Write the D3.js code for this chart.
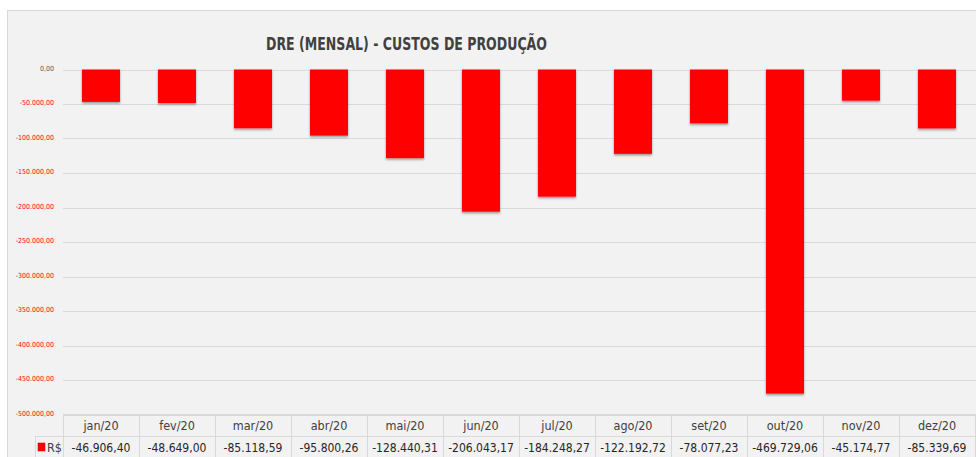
<!DOCTYPE html>
<html>
<head>
<meta charset="utf-8">
<script src="https://cdn.jsdelivr.net/npm/d3@7"></script>
<style>
  html, body { margin: 0; padding: 0; background: #fff; }
  svg { display: block; }
</style>
</head>
<body>
<div id="chart"></div>
<script>
const months = ['jan/20', 'fev/20', 'mar/20', 'abr/20', 'mai/20', 'jun/20',
  'jul/20', 'ago/20', 'set/20', 'out/20', 'nov/20', 'dez/20'];
const values = [-46906.40, -48649.00, -85118.59, -95800.26, -128440.31, -206043.17,
  -184248.27, -122192.72, -78077.23, -469729.06, -45174.77, -85339.69];
const yTicks = [0, -50000, -100000, -150000, -200000, -250000, -300000,
  -350000, -400000, -450000, -500000];
const seriesName = 'R$';
const title = 'DRE (MENSAL) - CUSTOS DE PRODUÇÃO';

const W = 976, H = 457;
const plot = { left: 63, right: 975, top: 69.5, bottom: 414.5 };
const FONT = '"DejaVu Sans Condensed", "Liberation Sans Narrow", "Open Sans", sans-serif';

const br = d3.formatLocale({ decimal: ',', thousands: '.', grouping: [3], currency: ['R$', ''] });
const fmt = br.format(',.2f');
const fmtNum = v => fmt(v).replace('−', '-');

const svg = d3.select('#chart').append('svg')
  .attr('width', W)
  .attr('height', H);

// drop shadow for the bars
const defs = svg.append('defs');
const shadow = defs.append('filter').attr('id', 'shadow')
  .attr('x', '-20%').attr('y', '-20%').attr('width', '140%').attr('height', '140%');
shadow.append('feDropShadow')
  .attr('dx', 0).attr('dy', 1.5).attr('stdDeviation', 1)
  .attr('flood-color', '#000').attr('flood-opacity', 0.4);

// chart area background
svg.append('rect')
  .attr('x', 7.5).attr('y', 10.5)
  .attr('width', W).attr('height', H)
  .attr('fill', '#f2f2f2')
  .attr('stroke', '#d9d9d9')
  .attr('stroke-width', 1);

// title
svg.append('text')
  .attr('x', 266)
  .attr('y', 50)
  .attr('font-family', FONT)
  .attr('font-size', '17px')
  .attr('font-weight', 'bold')
  .attr('fill', '#404040')
  .attr('textLength', 281)
  .attr('lengthAdjust', 'spacingAndGlyphs')
  .text(title);

// scales
const x = d3.scaleBand()
  .domain(months)
  .range([plot.left, plot.right])
  .paddingInner(0.5)
  .paddingOuter(0.25);

const y = d3.scaleLinear()
  .domain([0, -500000])
  .range([plot.top, plot.bottom]);

// gridlines
svg.append('g')
  .selectAll('line')
  .data(yTicks)
  .join('line')
  .attr('x1', plot.left)
  .attr('x2', W)
  .attr('y1', d => Math.round(y(d)) + 0.5)
  .attr('y2', d => Math.round(y(d)) + 0.5)
  .attr('stroke', '#d9d9d9')
  .attr('stroke-width', 1);

// y axis labels
const yAxis = svg.append('g')
  .attr('transform', `translate(${plot.left - 9},0)`)
  .call(d3.axisLeft(y).tickValues(yTicks).tickSize(0).tickFormat(fmtNum));
yAxis.select('.domain').remove();
yAxis.selectAll('text')
  .attr('x', 0)
  .attr('dy', '0.1em')
  .attr('font-family', FONT)
  .attr('font-size', '7px')
  .attr('fill', d => d < 0 ? '#ff0000' : '#595959');

// bars
svg.append('g')
  .selectAll('rect')
  .data(values)
  .join('rect')
  .attr('x', (d, i) => x(months[i]))
  .attr('y', y(0))
  .attr('width', x.bandwidth())
  .attr('height', d => y(d) - y(0))
  .attr('fill', '#ff0000')
  .attr('filter', 'url(#shadow)');

// data table
const step = x.step();
const colX = i => plot.left + i * step;
const rowTop = plot.bottom;
const rowMid = 436.5;
const table = svg.append('g');

// horizontal lines
table.append('line')
  .attr('x1', plot.left).attr('x2', W)
  .attr('y1', rowTop).attr('y2', rowTop)
  .attr('stroke', '#d9d9d9');
table.append('line')
  .attr('x1', 35).attr('x2', W)
  .attr('y1', rowMid).attr('y2', rowMid)
  .attr('stroke', '#d9d9d9');

// vertical lines
table.selectAll('.vline')
  .data(d3.range(months.length + 1))
  .join('line')
  .attr('class', 'vline')
  .attr('x1', i => Math.round(colX(i)) + 0.5)
  .attr('x2', i => Math.round(colX(i)) + 0.5)
  .attr('y1', rowTop)
  .attr('y2', H)
  .attr('stroke', '#d9d9d9');
table.append('line')
  .attr('x1', 35.5).attr('x2', 35.5)
  .attr('y1', rowMid).attr('y2', H)
  .attr('stroke', '#d9d9d9');

// header row
table.selectAll('.hdr')
  .data(months)
  .join('text')
  .attr('class', 'hdr')
  .attr('x', d => x(d) + x.bandwidth() / 2)
  .attr('y', 430)
  .attr('text-anchor', 'middle')
  .attr('font-family', FONT)
  .attr('font-size', '12.5px')
  .attr('fill', '#404040')
  .text(d => d);

// values row
table.selectAll('.val')
  .data(values)
  .join('text')
  .attr('class', 'val')
  .attr('x', (d, i) => x(months[i]) + x.bandwidth() / 2)
  .attr('y', 452)
  .attr('text-anchor', 'middle')
  .attr('font-family', FONT)
  .attr('font-size', '12px')
  .attr('fill', '#262626')
  .text(d => fmtNum(d));

// legend key in table
table.append('rect')
  .attr('x', 38).attr('y', 443)
  .attr('width', 7).attr('height', 8)
  .attr('fill', '#ff0000')
  .attr('stroke', '#c00000')
  .attr('stroke-width', 0.5);
table.append('text')
  .attr('x', 47)
  .attr('y', 452)
  .attr('font-family', FONT)
  .attr('font-size', '12.5px')
  .attr('fill', '#404040')
  .text(seriesName);
</script>
</body>
</html>
